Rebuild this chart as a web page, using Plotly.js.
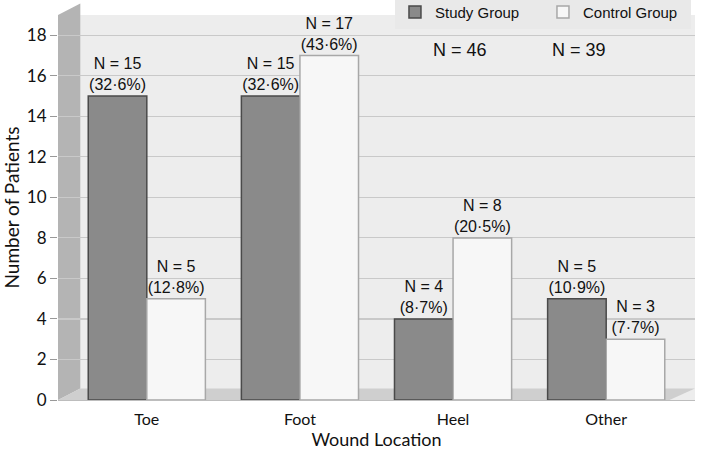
<!DOCTYPE html>
<html>
<head>
<meta charset="utf-8">
<script src="https://cdn.plot.ly/plotly-3.0.1.min.js"></script>
<style>html,body{margin:0;padding:0;background:#fff;}#chart{width:711px;height:451px;}</style>
</head>
<body>
<div id="chart"></div>
<script>
var categories = ["Toe", "Foot", "Heel", "Other"];
var studyValues = [15, 15, 4, 5];
var controlValues = [5, 17, 8, 3];
var studyPct = ["32·6%", "32·6%", "8·7%", "10·9%"];
var controlPct = ["12·8%", "43·6%", "20·5%", "7·7%"];
var seriesNames = ["Study Group", "Control Group"];
var groupTotals = ["N = 46", "N = 39"];
var yTicks = [0, 2, 4, 6, 8, 10, 12, 14, 16, 18];

function labels(vals, pcts) {
  return vals.map(function (v, i) { return "N = " + v + "<br>(" + pcts[i] + ")"; });
}

var labelFont = {family: "Liberation Sans, Arial, sans-serif", size: 16, color: "#111"};

var traces = [
  {
    type: "bar", name: seriesNames[0], x: categories, y: studyValues,
    text: labels(studyValues, studyPct), textposition: "outside", cliponaxis: false,
    constraintext: "none", textfont: labelFont,
    marker: {color: "#8a8a8a", line: {color: "#4a4a4a", width: 1.5}}
  },
  {
    type: "bar", name: seriesNames[1], x: categories, y: controlValues,
    text: labels(controlValues, controlPct), textposition: "outside", cliponaxis: false,
    constraintext: "none", textfont: labelFont,
    marker: {color: "#f7f7f7", line: {color: "#a8a8a8", width: 1.5}}
  }
];

var layout = {
  width: 711, height: 451,
  margin: {l: 58, r: 16, t: 15, b: 51, autoexpand: false},
  paper_bgcolor: "#ffffff",
  plot_bgcolor: "#ededed",
  barmode: "group", bargap: 0.235, bargroupgap: 0,
  showlegend: true,
  legend: {
    orientation: "h", x: 0.529, y: 1.05, xanchor: "left", yanchor: "top",
    bgcolor: "#e9e9e9", font: {family: "Liberation Sans, Arial, sans-serif", size: 15, color: "#111"},
    traceorder: "normal", itemwidth: 30, entrywidth: 103, tracegroupgap: 0
  },
  xaxis: {
    type: "category", range: [-0.58, 3.58], showgrid: false, zeroline: false,
    ticks: "", showline: false, ticklabelstandoff: 8,
    tickfont: {family: "Lato, sans-serif", size: 16, color: "#111"},
    title: {text: "Wound Location", font: {family: "Lato, sans-serif", size: 18, color: "#111"}, standoff: 6}
  },
  yaxis: {
    range: [0, 19], tickvals: yTicks, showgrid: true, gridcolor: "#c9c9c9", gridwidth: 1.2,
    zeroline: true, zerolinecolor: "#bdbdbd",
    ticks: "outside", ticklen: 7, tickcolor: "#999", showline: false,
    tickfont: {family: "Lato, sans-serif", size: 17, color: "#111"},
    title: {text: "Number of Patients", font: {family: "Lato, sans-serif", size: 19, color: "#111"}, standoff: 8}
  },
  shapes: [
    {type: "path", xref: "paper", yref: "paper", layer: "below",
     path: "M 0 0 L 0.035 0.03 L 0.035 1.03 L 0 1.0 Z",
     fillcolor: "#b4b4b4", line: {width: 0}},
    {type: "path", xref: "paper", yref: "paper", layer: "below",
     path: "M 0 0 L 0.96 0 L 1.0 0.03 L 0.035 0.03 Z",
     fillcolor: "#cfcfcf", line: {width: 0}}
  ],
  annotations: [
    {xref: "paper", yref: "paper", x: 0.631, y: 0.94, text: groupTotals[0], showarrow: false,
     font: {family: "Liberation Sans, Arial, sans-serif", size: 18, color: "#111"}},
    {xref: "paper", yref: "paper", x: 0.863, y: 0.94, text: groupTotals[1], showarrow: false,
     font: {family: "Liberation Sans, Arial, sans-serif", size: 18, color: "#111"}}
  ]
};

Plotly.newPlot("chart", traces, layout, {displayModeBar: false, staticPlot: true});
</script>
</body>
</html>
